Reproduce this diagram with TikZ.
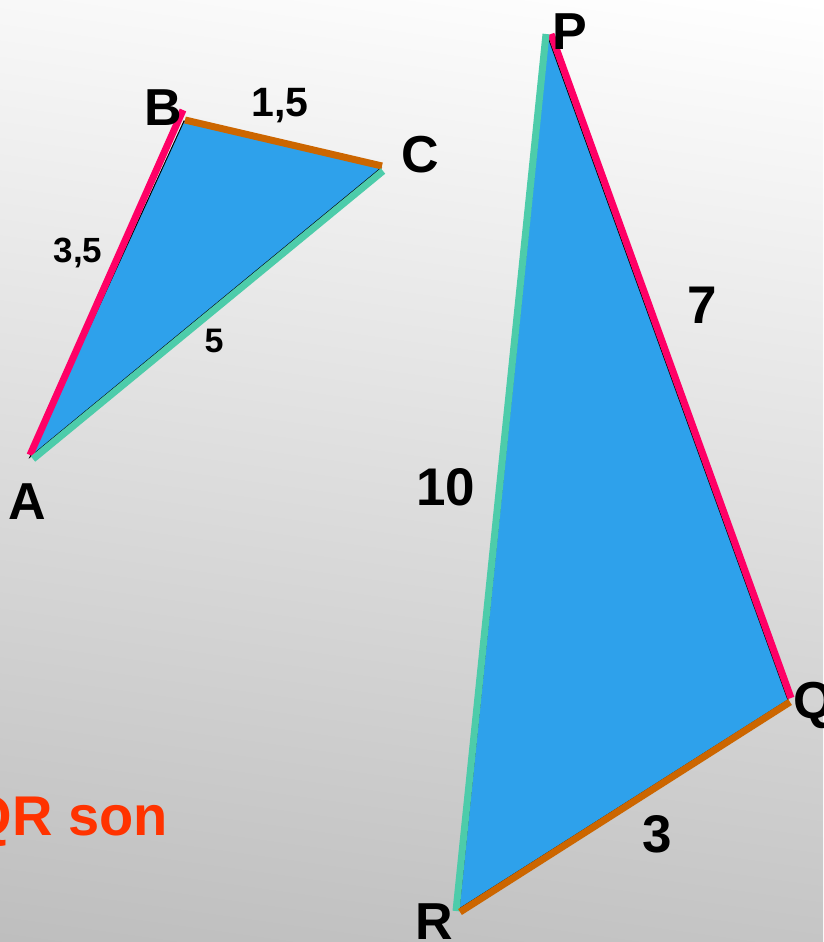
\documentclass[tikz,border=0pt]{standalone}
\usepackage{fontspec}
\setmainfont{Liberation Sans}
\definecolor{triblue}{RGB}{46,161,235}
\definecolor{sidepink}{RGB}{255,0,102}
\definecolor{sideorange}{RGB}{204,102,0}
\definecolor{sideteal}{RGB}{77,204,170}
\definecolor{textred}{RGB}{255,51,0}
\definecolor{bgbottom}{RGB}{190,190,190}
\tikzset{
  tri/.style={fill=triblue, draw=black, line width=1pt, line join=miter},
  side/.style={line width=7pt, line cap=butt},
  lbl/.style={inner sep=0pt, anchor=base, font=\bfseries\fontsize{52}{60}\selectfont},
  num/.style={inner sep=0pt, anchor=base, font=\bfseries\fontsize{#1}{#1}\selectfont},
}
\begin{document}
\begin{tikzpicture}[x=1pt, y=-1pt]
\useasboundingbox (0,0) rectangle (823,942);
\clip (0,0) rectangle (823,942);
\shade[top color=white, bottom color=bgbottom, shading angle=-8] (-60,-60) rectangle (883,1002);

% triangle ABC
\coordinate (A) at (30,457);
\coordinate (B) at (184,121);
\coordinate (C) at (381,168);
\path[tri] (A) -- (B) -- (C) -- cycle;
\draw[side, sidepink] (30,455) -- (183,110);
\draw[side, sideorange] (185,120) -- (382,166);
\draw[side, sideteal] (33,459) -- (383,171);

% triangle PQR
\coordinate (P) at (548,37);
\coordinate (Q) at (788,700);
\coordinate (R) at (459,909);
\path[tri] (P) -- (Q) -- (R) -- cycle;
\draw[side, sidepink] (551,34) -- (791,698);
\draw[side, sideteal] (546,34) -- (456,911);
\draw[side, sideorange] (790,702) -- (460,912);

% labels
\node[lbl] (lA) at (27,519) {A};
\node[lbl] (lB) at (163,125) {B};
\node[lbl] (lC) at (420,172) {C};
\node[lbl] (lP) at (570,49) {P};
\node[lbl, anchor=base west] (lQ) at (793,718) {Q};
\node[lbl] (lR) at (434,939) {R};

\node[num=41] (nBC) at (280,116) {1,5};
\node[num=35] (nAB) at (78,262) {3,5};
\node[num=34] (nAC) at (214,352) {5};
\node[num=53] (nPQ) at (702,323) {7};
\node[num=53] (nPR) at (446,505) {10};
\node[num=53] (nQR) at (657,852) {3};

\node[inner sep=0pt, anchor=base east, text=textred, font=\bfseries\fontsize{56}{60}\selectfont] (txt) at (168,835) {QR son};
\end{tikzpicture}
\end{document}
